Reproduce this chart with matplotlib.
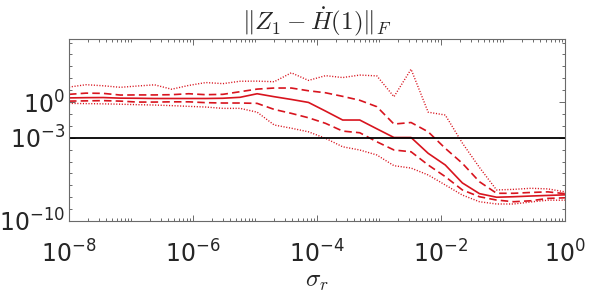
import numpy as np
import matplotlib
matplotlib.use("Agg")
import matplotlib.pyplot as plt
from matplotlib.ticker import FixedLocator, LogLocator, NullFormatter, LogFormatterSciNotation

plt.rcParams["font.family"] = ["DejaVu Sans"]
plt.rcParams["mathtext.fontset"] = "cm"
plt.rcParams["axes.unicode_minus"] = False

# sampling grid of sigma_r (30 points, 1e-8 .. 1)
sigma_r = np.logspace(-8, 0, 30)

# log10 of the error
median_exp = [0.35, 0.37, 0.38, 0.33, 0.32, 0.30, 0.30, 0.30, 0.30, 0.32,
              0.40, 0.70, 0.45, 0.22, -0.03, -0.76, -1.51, -1.51, -2.25, -2.98,
              -2.98, -4.31, -5.29, -6.80, -7.70, -8.00, -7.96, -7.90, -7.85, -7.80]
q_hi_exp = [0.65, 0.75, 0.73, 0.59, 0.60, 0.60, 0.62, 0.70, 0.62, 0.65,
            0.87, 1.09, 1.18, 1.18, 0.95, 0.78, 0.48, 0.15, -0.39, -1.85,
            -1.72, -2.50, -3.89, -5.15, -6.70, -7.67, -7.67, -7.60, -7.55, -7.70]
q_lo_exp = [0.08, 0.10, 0.12, 0.08, 0.00, 0.00, 0.02, 0.02, -0.05, -0.08,
            -0.08, -0.11, -0.62, -0.95, -1.32, -1.79, -2.44, -2.58, -3.34, -4.03,
            -4.18, -5.29, -6.27, -7.39, -7.96, -8.24, -8.38, -8.30, -8.10, -8.05]
max_exp = [1.26, 1.46, 1.37, 1.24, 1.35, 1.45, 1.08, 1.40, 1.64, 1.55,
           1.75, 1.76, 1.71, 2.46, 1.82, 2.22, 2.06, 2.27, 2.20, 0.45,
           2.76, -0.85, -1.09, -3.45, -5.50, -7.39, -7.34, -7.25, -7.30, -7.55]
min_exp = [-0.11, -0.13, -0.15, -0.18, -0.22, -0.25, -0.30, -0.36, -0.42, -0.53,
           -0.53, -0.85, -1.93, -2.20, -2.50, -3.05, -3.76, -4.03, -4.45, -5.35,
           -5.55, -6.13, -6.97, -7.82, -8.38, -8.57, -8.57, -8.40, -8.25, -8.25]
threshold = 1e-3

red = "#d8141e"
axcol = "#6a6a6a"
txtcol = "#262626"

fig = plt.figure(figsize=(5.98, 2.94), dpi=100)
ax = fig.add_axes([0.1154, 0.2483, 0.8294, 0.619])

ax.plot(sigma_r, 10.0 ** np.array(max_exp), color=red, lw=1.0, ls=(0, (0.8, 1.2)))
ax.plot(sigma_r, 10.0 ** np.array(q_hi_exp), color=red, lw=1.2, ls=(0, (4.5, 2.5)))
ax.plot(sigma_r, 10.0 ** np.array(median_exp), color=red, lw=1.2, ls="-")
ax.plot(sigma_r, 10.0 ** np.array(q_lo_exp), color=red, lw=1.2, ls=(0, (4.5, 2.5)))
ax.plot(sigma_r, 10.0 ** np.array(min_exp), color=red, lw=1.0, ls=(0, (0.8, 1.2)))
ax.axhline(threshold, color="black", lw=1.3)

ax.set_xscale("log")
ax.set_yscale("log")
ax.set_xlim(1e-8, 1)
ax.set_ylim(1e-10, 2e5)

ax.xaxis.set_major_locator(FixedLocator([1e-8, 1e-6, 1e-4, 1e-2, 1]))
ax.xaxis.set_minor_locator(LogLocator(base=10, subs=np.arange(1, 10), numticks=100))
ax.xaxis.set_major_formatter(LogFormatterSciNotation())
ax.xaxis.set_minor_formatter(NullFormatter())
ax.yaxis.set_major_locator(FixedLocator([1e-10, 1e-3, 1]))
ax.yaxis.set_minor_locator(LogLocator(base=10, subs=[1.0], numticks=100))
ax.yaxis.set_major_formatter(LogFormatterSciNotation())
ax.yaxis.set_minor_formatter(NullFormatter())

ax.tick_params(which="both", direction="in", top=True, right=True, colors=axcol,
               labelcolor=txtcol, labelsize=17, width=0.7)
ax.tick_params(which="major", length=4)
ax.tick_params(which="minor", length=2.5)
ax.tick_params(axis="x", pad=14)
ax.tick_params(axis="y", pad=3)
for s in ax.spines.values():
    s.set_color(axcol)
    s.set_linewidth(0.8)

ax.set_title(r"$\|Z_1 - \dot{H}(1)\|_F$", fontsize=18, color=txtcol, pad=6)
ax.set_xlabel(r"$\sigma_r$", fontsize=18, color=txtcol, labelpad=1)

fig.savefig("out.png", dpi=100)
